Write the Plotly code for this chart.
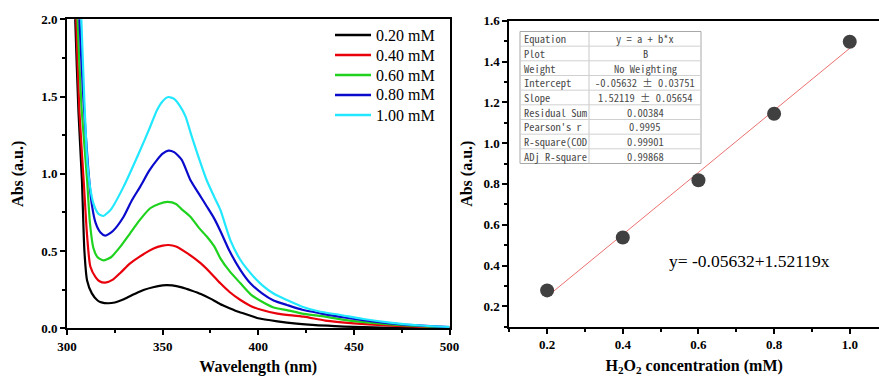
import plotly.graph_objects as go

W, H = 879, 376
SERIF = "Liberation Serif, Times New Roman, serif"
MONO = "Noto Sans Mono CJK SC, Liberation Mono, monospace"

# ---- UV-vis spectra (wavelength in nm, absorbance in a.u.) ----
wl_020 = [303, 304.3, 306, 307.8, 309.1, 310.5, 313, 316, 318, 321.5, 325, 330, 335, 340, 345,
          350, 352, 355, 360, 365, 370, 375, 380, 385, 390, 397.6, 400, 410, 420, 430, 440, 450,
          460, 470, 480, 490, 500]
abs_020 = [2.6, 2.0, 1.4, 0.96, 0.5, 0.31, 0.226, 0.18, 0.168, 0.162, 0.167, 0.19, 0.22, 0.248,
           0.266, 0.278, 0.28, 0.278, 0.265, 0.245, 0.222, 0.192, 0.157, 0.13, 0.105, 0.075,
           0.065, 0.045, 0.03, 0.02, 0.014, 0.009, 0.006, 0.004, 0.003, 0.002, 0.001]

wl_040 = [303, 304.8, 306.5, 308.7, 310.5, 312.2, 315, 317, 320, 324, 328, 333, 338, 345, 350,
          353, 357, 363, 370, 375, 380.2, 385, 390.7, 396, 402, 410, 423.8, 435, 450, 465, 480,
          490, 500]
abs_040 = [2.8, 2.0, 1.4, 0.96, 0.6, 0.4, 0.33, 0.305, 0.296, 0.315, 0.36, 0.42, 0.464, 0.515,
           0.535, 0.539, 0.53, 0.485, 0.42, 0.36, 0.291, 0.235, 0.183, 0.145, 0.118, 0.095, 0.075,
           0.05, 0.032, 0.02, 0.012, 0.007, 0.004]

wl_060 = [303, 305.5, 307.5, 310.5, 312, 313.8, 316, 319, 323, 328, 333, 338, 343.5, 348, 352.6,
          357, 360, 364.5, 369, 373.2, 377, 380.2, 385, 390.7, 396, 402, 408, 415, 423, 432.5,
          445, 460, 475, 490, 500]
abs_060 = [3.0, 2.0, 1.45, 0.96, 0.68, 0.52, 0.46, 0.44, 0.46, 0.53, 0.615, 0.7, 0.777, 0.805,
           0.818, 0.805, 0.77, 0.722, 0.65, 0.593, 0.53, 0.453, 0.37, 0.291, 0.22, 0.172, 0.135,
           0.118, 0.095, 0.08, 0.055, 0.035, 0.02, 0.01, 0.006]

wl_080 = [303, 306.5, 308.5, 311, 313, 315, 317.5, 320, 324, 329.6, 334, 338.3, 343, 347.1, 350,
          353, 356, 360, 364.5, 369, 373.2, 377, 380.2, 385, 390.7, 396, 402, 408, 415, 423,
          432.5, 445, 460, 475, 490, 500]
abs_080 = [3.2, 2.0, 1.5, 1.05, 0.8, 0.68, 0.62, 0.6, 0.63, 0.722, 0.83, 0.917, 1.02, 1.09, 1.13,
           1.15, 1.14, 1.09, 0.96, 0.87, 0.787, 0.71, 0.63, 0.5, 0.377, 0.29, 0.226, 0.18, 0.151,
           0.12, 0.097, 0.07, 0.045, 0.026, 0.014, 0.008]

wl_100 = [303, 307.5, 309, 310.5, 312, 314, 316.5, 319, 323, 329.6, 338.3, 343, 347.1, 350, 353,
          356, 359, 362, 365, 369, 373, 377, 380.2, 385.4, 390.7, 397.6, 402, 408, 415, 423,
          432.5, 443, 455, 470, 485, 500]
abs_100 = [3.4, 2.0, 1.5, 1.1, 0.92, 0.8, 0.74, 0.727, 0.77, 0.917, 1.154, 1.29, 1.413, 1.47,
           1.497, 1.485, 1.44, 1.37, 1.25, 1.1, 0.96, 0.85, 0.766, 0.571, 0.442, 0.334, 0.28,
           0.225, 0.183, 0.14, 0.107, 0.086, 0.06, 0.035, 0.018, 0.009]

spectra_names = ["0.20 mM", "0.40 mM", "0.60 mM", "0.80 mM", "1.00 mM"]
spectra_wl = [wl_020, wl_040, wl_060, wl_080, wl_100]
spectra_abs = [abs_020, abs_040, abs_060, abs_080, abs_100]
spectra_colors = ["#000000", "#e8000b", "#1ed21e", "#0a0acc", "#22e8ff"]

# ---- calibration: peak absorbance vs H2O2 concentration ----
conc = [0.2, 0.4, 0.6, 0.8, 1.0]
peak_abs = [0.278, 0.537, 0.818, 1.144, 1.497]
fit_intercept = -0.05632
fit_slope = 1.52119

# ---- linear fit report ----
tbl_labels = ["Equation", "Plot", "Weight", "Intercept", "Slope", "Residual Sum",
              "Pearson's r", "R-square(COD", "ADj R-square"]
tbl_values = ["y = a + b*x", "B", "No Weighting", "-0.05632 ± 0.03751", "1.52119 ± 0.05654",
              "0.00384", "0.9995", "0.99901", "0.99868"]


def px(x):
    return x / W


def py(y):
    return 1 - y / H


fig = go.Figure()

for name, xs, ys, col in zip(spectra_names, spectra_wl, spectra_abs, spectra_colors):
    fig.add_trace(go.Scatter(x=xs, y=ys, mode="lines", name=name, showlegend=False,
                             line=dict(color=col, width=2.2, shape="spline", smoothing=0.6),
                             xaxis="x", yaxis="y"))

fit_x = [conc[0], conc[-1]]
fit_y = [fit_intercept + fit_slope * v for v in fit_x]
fig.add_trace(go.Scatter(x=fit_x, y=fit_y, mode="lines", showlegend=False,
                         line=dict(color="#ec7070", width=1), xaxis="x2", yaxis="y2"))
fig.add_trace(go.Scatter(x=conc, y=peak_abs, mode="markers", showlegend=False,
                         marker=dict(color="#404040", size=14, line=dict(width=0)),
                         xaxis="x2", yaxis="y2"))

tick_font = dict(family=SERIF, size=13, color="black", weight="bold")
title_font = dict(family=SERIF, size=16, color="black", weight="bold")
axis_common = dict(showgrid=False, zeroline=False, showline=True, linecolor="black",
                   linewidth=2, ticks="outside", ticklen=5, tickwidth=2, tickcolor="black",
                   tickfont=tick_font, automargin=False)

fig.update_layout(
    width=W, height=H, margin=dict(l=0, r=0, t=0, b=0),
    paper_bgcolor="white", plot_bgcolor="white", showlegend=False,
    xaxis=dict(domain=[px(67), px(449.5)], range=[300, 500], tick0=300, dtick=50,
               mirror=True, anchor="y",
               minor=dict(ticks="outside", ticklen=3, tickwidth=1.5, dtick=25, tickcolor="black"),
               title=dict(text="Wavelength (nm)", font=title_font, standoff=9),
               **axis_common),
    yaxis=dict(domain=[py(328.3), py(19.3)], range=[0, 2.0], tick0=0, dtick=0.5,
               tickformat=".1f", mirror=True, anchor="x",
               minor=dict(ticks="outside", ticklen=3, tickwidth=1.5, dtick=0.25, tickcolor="black"),
               title=dict(text="Abs (a.u.)", font=title_font, standoff=14),
               **axis_common),
    xaxis2=dict(domain=[px(509.3), 1.0], range=[0.1, 1.0773], tick0=0.2, dtick=0.2,
                tickformat=".1f", mirror=True, anchor="y2",
                minor=dict(ticks="outside", ticklen=3, tickwidth=1.5, dtick=0.1, tickcolor="black"),
                title=dict(text="H<sub>2</sub>O<sub>2</sub> concentration (mM)", font=title_font,
                           standoff=9),
                **axis_common),
    yaxis2=dict(domain=[py(326.7), py(20.7)], range=[0.1, 1.6], tick0=0.2, dtick=0.2,
                tickformat=".1f", mirror=False, anchor="x2",
                minor=dict(ticks="outside", ticklen=3, tickwidth=1.5, dtick=0.1, tickcolor="black"),
                title=dict(text="Abs (a.u.)", font=title_font, standoff=7),
                **axis_common),
)

shapes = []
annotations = []

# legend for the spectra: colour key line + concentration label per row
for i, (name, col) in enumerate(zip(spectra_names, spectra_colors)):
    yc = 35 + 20 * i
    shapes.append(dict(type="line", xref="paper", yref="paper", x0=px(335), x1=px(371),
                       y0=py(yc), y1=py(yc), line=dict(color=col, width=2.4)))
    annotations.append(dict(text=name, x=px(374), y=py(yc), xref="paper", yref="paper",
                            xanchor="left", yanchor="middle", showarrow=False,
                            font=dict(family=SERIF, size=16, color="black")))

# fit report table drawn over the calibration plot
t_left, t_mid, t_right, t_top, t_bot = 520, 589, 701, 31.5, 163.5
n_rows = len(tbl_labels)
row_h = (t_bot - t_top) / n_rows
shapes.append(dict(type="rect", xref="paper", yref="paper", x0=px(t_left), x1=px(t_right),
                   y0=py(t_bot), y1=py(t_top), line=dict(color="#a8a8a8", width=1),
                   fillcolor="rgba(255,255,255,0.9)", layer="above"))
shapes.append(dict(type="line", xref="paper", yref="paper", x0=px(t_mid), x1=px(t_mid),
                   y0=py(t_bot), y1=py(t_top), line=dict(color="#c8c8c8", width=1)))
for i in range(1, n_rows):
    yy = t_top + i * row_h
    shapes.append(dict(type="line", xref="paper", yref="paper", x0=px(t_left), x1=px(t_right),
                       y0=py(yy), y1=py(yy), line=dict(color="#d0d0d0", width=1)))
for i, (lab, val) in enumerate(zip(tbl_labels, tbl_values)):
    yc = t_top + (i + 0.5) * row_h
    annotations.append(dict(text=lab, x=px(t_left + 2), y=py(yc), xref="paper", yref="paper",
                            xanchor="left", yanchor="middle", showarrow=False,
                            font=dict(family=MONO, size=10.5, color="#4a4a4a")))
    annotations.append(dict(text=val, x=px((t_mid + t_right) / 2), y=py(yc), xref="paper",
                            yref="paper", xanchor="center", yanchor="middle", showarrow=False,
                            font=dict(family=MONO, size=10.5, color="#4a4a4a")))

annotations.append(dict(text=f"y= {fit_intercept:.5f}+{fit_slope:.5f}x", x=px(749), y=py(261),
                        xref="paper", yref="paper", xanchor="center", yanchor="middle",
                        showarrow=False, font=dict(family=SERIF, size=17.5, color="black")))

fig.update_layout(shapes=shapes, annotations=annotations)

fig.write_html("out.html")
